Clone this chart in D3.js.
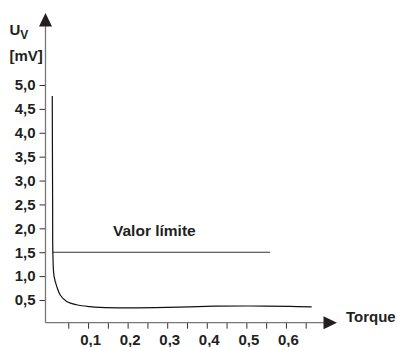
<!DOCTYPE html>
<html>
<head>
<meta charset="utf-8">
<script src="https://cdn.jsdelivr.net/npm/d3@7"></script>
<style>
	body { margin: 0; background: #fff; }
	svg text { font-family: "Liberation Sans", Arial, Helvetica, sans-serif; font-weight: bold; fill: #231f20; }
</style>
</head>
<body>
<svg id="chart" width="398" height="347"></svg>
<script>
// data
var torque = [0.0095, 0.0100, 0.0105, 0.011, 0.014, 0.021, 0.030, 0.046, 0.071, 0.105, 0.13, 0.20, 0.30, 0.42, 0.51, 0.61, 0.665];
var uv = [4.77, 3.5, 2.3, 1.5, 1.0, 0.78, 0.60, 0.47, 0.40, 0.36, 0.345, 0.335, 0.345, 0.37, 0.375, 0.365, 0.355];

var limitValue = 1.5;
var limitRange = [0.01, 0.56];
var limitLabel = "Valor límite";

var xTicks = [0.05, 0.1, 0.15, 0.2, 0.25, 0.3, 0.35, 0.4, 0.45, 0.5, 0.55, 0.6, 0.65];
var xLabels = [0.1, 0.2, 0.3, 0.4, 0.5, 0.6];
var yTicks = [0.5, 1.0, 1.5, 2.0, 2.5, 3.0, 3.5, 4.0, 4.5, 5.0];

var svg = d3.select("#chart");

var x = d3.scaleLinear().domain([0, 0.65]).range([48.5, 305.7]);
var y = d3.scaleLinear().domain([0, 5]).range([323.9, 85]);

var axisX = 45.5, axisY = 322.7;

function comma(v){
	return d3.format(".1f")(v).replace(".", ",");
}

// y axis ticks
var gy = svg.append("g")
	.attr("transform", "translate(" + axisX + ",0)")
	.call(d3.axisLeft(y).tickValues(yTicks).tickSize(6).tickPadding(4).tickFormat(comma));
gy.select(".domain").remove();
gy.selectAll(".tick line").attr("stroke", "#333");
gy.selectAll(".tick text").attr("font-size", 15).attr("fill", "#231f20").attr("font-family", null);

// x axis ticks
var gx = svg.append("g")
	.attr("transform", "translate(0," + axisY + ")")
	.call(d3.axisBottom(x).tickValues(xTicks).tickSize(6).tickPadding(6)
		.tickFormat(function(d){
			var lab = xLabels.some(function(v){ return Math.abs(v - d) < 1e-6; });
			return lab ? comma(d) : "";
		}));
gx.select(".domain").remove();
gx.selectAll(".tick line").attr("stroke", "#333");
gx.selectAll(".tick text").attr("font-size", 15).attr("fill", "#231f20").attr("font-family", null).attr("dx", 2);

// axis lines with arrows
svg.append("line")
	.attr("x1", axisX).attr("x2", axisX)
	.attr("y1", axisY).attr("y2", 24)
	.attr("stroke", "#777").attr("stroke-width", 1.3);
svg.append("path")
	.attr("d", "M" + axisX + ",13 L" + (axisX + 6.5) + ",26.5 L" + (axisX - 6.5) + ",26.5 Z")
	.attr("fill", "#231f20");

svg.append("line")
	.attr("x1", axisX).attr("x2", 326)
	.attr("y1", axisY).attr("y2", axisY)
	.attr("stroke", "#777").attr("stroke-width", 1.3);
svg.append("path")
	.attr("d", "M337," + axisY + " L323.5," + (axisY - 6.5) + " L323.5," + (axisY + 6.5) + " Z")
	.attr("fill", "#231f20");

// limit line
svg.append("line")
	.attr("x1", x(limitRange[0])).attr("x2", x(limitRange[1]))
	.attr("y1", y(limitValue)).attr("y2", y(limitValue))
	.attr("stroke", "#333").attr("stroke-width", 1.2);

svg.append("text")
	.attr("x", 113).attr("y", 235.5)
	.attr("font-size", 15.5)
	.text(limitLabel);

// measured curve
var pts = torque.map(function(t, i){ return [t, uv[i]]; });
var line = d3.line()
	.x(function(d){ return x(d[0]); })
	.y(function(d){ return y(d[1]); })
	.curve(d3.curveCatmullRom.alpha(0.5));

svg.append("path")
	.datum(pts)
	.attr("d", line)
	.attr("fill", "none")
	.attr("stroke", "#111")
	.attr("stroke-width", 1.2);

// axis titles
var t1 = svg.append("text").attr("x", 9.5).attr("y", 34.5).attr("font-size", 15);
t1.append("tspan").text("U");
t1.append("tspan").attr("dy", 4).attr("font-size", 12).text("V");

svg.append("text").attr("x", 9.5).attr("y", 60.5).attr("font-size", 15).text("[mV]");

svg.append("text").attr("x", 346).attr("y", 322).attr("font-size", 15).text("Torque");
</script>
</body>
</html>
